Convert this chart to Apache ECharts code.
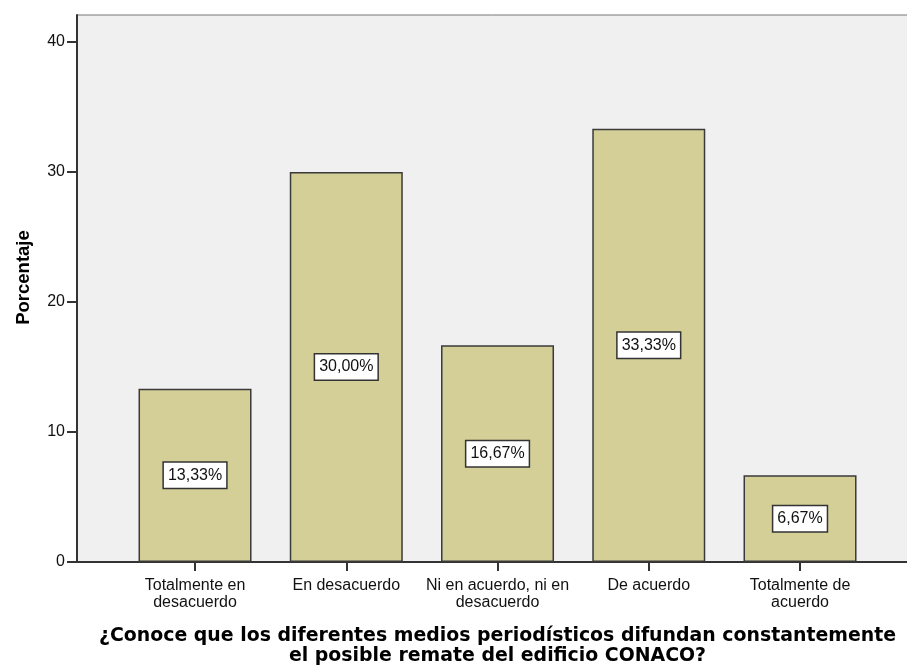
<!DOCTYPE html>
<html>
<head>
<meta charset="utf-8">
<script src="https://cdn.jsdelivr.net/npm/echarts@6/dist/echarts.min.js"></script>
<style>
html,body{margin:0;padding:0;background:#fff;}
#c{width:907px;height:666px;}
</style>
</head>
<body>
<div id="c"></div>
<script>
const categories = ['Totalmente en\ndesacuerdo', 'En desacuerdo', 'Ni en acuerdo, ni en\ndesacuerdo', 'De acuerdo', 'Totalmente de\nacuerdo'];
const percentages = [13.33, 30.00, 16.67, 33.33, 6.67];
const yTicks = [0, 10, 20, 30, 40];
const yTitle = 'Porcentaje';
const xTitle = '¿Conoce que los diferentes medios periodísticos difundan constantemente\nel posible remate del edificio CONACO?';

const Y_MAX = 42.07;
const chart = echarts.init(document.getElementById('c'), null, {renderer: 'canvas'});
const font = 'Liberation Sans, Arial, sans-serif';

chart.setOption({
  animation: false,
  backgroundColor: '#ffffff',
  grid: [
    {left: 77, right: -10, top: 15, bottom: 104, outerBoundsMode: 'none', containLabel: false,
     show: true, backgroundColor: '#f0f0f0', borderColor: '#777', borderWidth: 1},
    {left: 119.4, width: 756.25, top: 15, bottom: 104, outerBoundsMode: 'none', containLabel: false}
  ],
  xAxis: [
    {gridIndex: 0, type: 'value', min: 0, max: 1, axisLine: {show: true, onZero: false, lineStyle: {color: '#333', width: 2}},
     axisTick: {show: false}, axisLabel: {show: false}, splitLine: {show: false}},
    {gridIndex: 1, type: 'category', data: categories, boundaryGap: true,
     axisLine: {show: false},
     axisTick: {show: true, alignWithLabel: true, length: 9, lineStyle: {color: '#333', width: 2}},
     axisLabel: {interval: 0, margin: 15, fontFamily: font, fontSize: 16, lineHeight: 17, color: '#111', align: 'center'},
     name: xTitle, nameLocation: 'middle', nameGap: 64, nameMoveOverlap: false,
     nameTextStyle: {fontFamily: 'DejaVu Sans', fontWeight: 'bold', fontSize: 18.9, lineHeight: 20, color: '#000', align: 'center'}}
  ],
  yAxis: [
    {gridIndex: 0, type: 'value', min: 0, max: Y_MAX,
     axisLine: {show: true, lineStyle: {color: '#333', width: 2}},
     axisTick: {show: true, length: 10, customValues: yTicks, lineStyle: {color: '#333', width: 2}},
     axisLabel: {show: true, margin: 12, customValues: yTicks, fontFamily: font, fontSize: 16, color: '#111'},
     splitLine: {show: false},
     name: yTitle, nameLocation: 'middle', nameGap: 44, nameRotate: 90, nameMoveOverlap: false,
     nameTextStyle: {fontFamily: font, fontWeight: 'bold', fontSize: 18.5, color: '#000', padding: [0, 0, 0, 22]}},
    {gridIndex: 1, type: 'value', min: 0, max: Y_MAX, show: false, splitLine: {show: false}}
  ],
  series: [{
    type: 'bar',
    xAxisIndex: 1, yAxisIndex: 1,
    data: percentages,
    barWidth: 113,
    itemStyle: {color: '#d3cf97', borderColor: '#3a3a3a', borderWidth: 1.5},
    label: {
      show: true, position: 'inside',
      formatter: p => p.value.toFixed(2).replace('.', ',') + '%',
      fontFamily: font, fontSize: 16, color: '#111',
      backgroundColor: '#ffffff', borderColor: '#333', borderWidth: 1.5,
      padding: [5, 4, 4, 4]
    }
  }]
});
</script>
</body>
</html>
